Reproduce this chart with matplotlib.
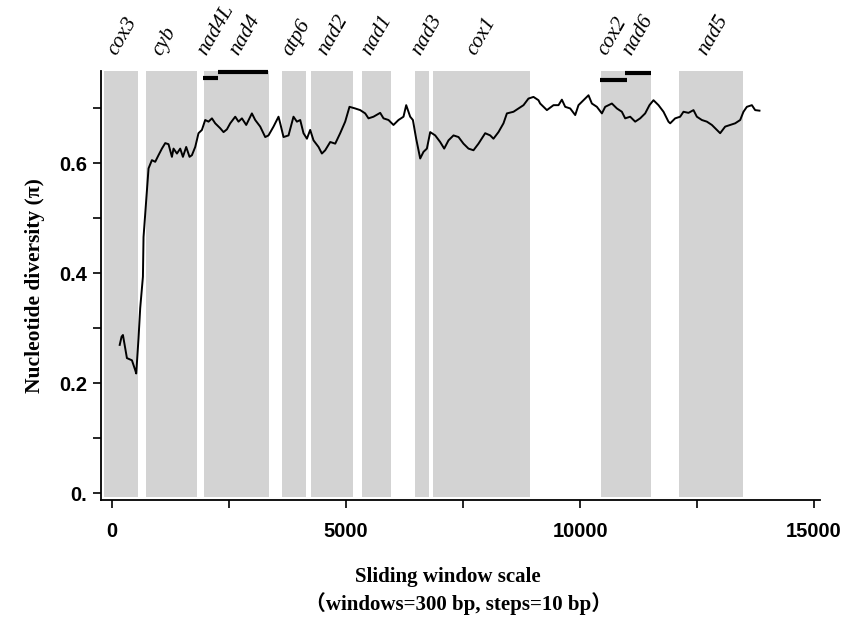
import matplotlib
matplotlib.use('Agg')
import matplotlib.pyplot as plt

# gene regions (bp)
genes = ['cox3', 'cyb', 'nad4L/nad4', 'atp6', 'nad2', 'nad1', 'nad3', 'cox1', 'cox2/nad6', 'nad5']
gene_start = [-180, 716, 1962, 3632, 4252, 5342, 6474, 6859, 10449, 12105]
gene_end = [556, 1806, 3340, 4145, 5150, 5962, 6763, 8932, 11517, 13483]

# gene names written on top
label_names = ['cox3', 'cyb', 'nad4L', 'nad4', 'atp6', 'nad2', 'nad1', 'nad3', 'cox1', 'cox2', 'nad6', 'nad5']
label_pos = [135, 1090, 2051, 2736, 3868, 4616, 5556, 6625, 7794, 10600, 11134, 12737]

# overlap bars
bar_names = ['nad4L', 'nad4', 'cox2', 'nad6']
bar_start = [1945, 2265, 10429, 10963]
bar_end = [2265, 3334, 11000, 11518]
bar_y = [0.755, 0.766, 0.752, 0.764]

# sliding window nucleotide diversity
pos = [160, 200, 229, 314, 421, 492, 513, 562, 598, 656, 669, 727, 776, 848, 919, 989,
       1062, 1133, 1203, 1276, 1310, 1383, 1453, 1511, 1581, 1652, 1703, 1774, 1844, 1917,
       1987, 2058, 2131, 2201, 2308, 2379, 2451, 2522, 2629, 2699, 2772, 2864, 2985, 3056,
       3163, 3270, 3340, 3447, 3554, 3590, 3661, 3768, 3874, 3947, 4018, 4088, 4161, 4231,
       4302, 4409, 4481, 4552, 4659, 4766, 4872, 4979, 5071, 5193, 5300, 5407, 5477, 5584,
       5727, 5798, 5905, 6011, 6118, 6225, 6283, 6368, 6426, 6496, 6582, 6652, 6725, 6796,
       6903, 7009, 7095, 7187, 7294, 7401, 7507, 7614, 7721, 7828, 7971, 8078, 8148, 8255,
       8362, 8435, 8576, 8683, 8790, 8896, 9003, 9110, 9146, 9290, 9431, 9538, 9610, 9681,
       9788, 9895, 9965, 10072, 10179, 10251, 10358, 10465, 10536, 10679, 10786, 10892,
       10963, 11070, 11177, 11283, 11390, 11482, 11568, 11675, 11782, 11888, 11925, 12031,
       12138, 12209, 12316, 12423, 12495, 12602, 12709, 12816, 12922, 12993, 13100, 13207,
       13314, 13421, 13491, 13564, 13671, 13741, 13833]
pi = [0.27, 0.285, 0.288, 0.246, 0.242, 0.224, 0.218, 0.282, 0.337, 0.394, 0.466, 0.534,
      0.591, 0.606, 0.603, 0.615, 0.627, 0.637, 0.635, 0.612, 0.627, 0.618, 0.627, 0.612,
      0.630, 0.612, 0.615, 0.630, 0.655, 0.661, 0.679, 0.676, 0.682, 0.673, 0.664, 0.657,
      0.662, 0.673, 0.685, 0.676, 0.682, 0.670, 0.691, 0.679, 0.667, 0.648, 0.651, 0.667,
      0.685, 0.673, 0.648, 0.651, 0.685, 0.676, 0.679, 0.655, 0.645, 0.661, 0.642, 0.630,
      0.618, 0.624, 0.639, 0.636, 0.655, 0.676, 0.703, 0.700, 0.697, 0.691, 0.682, 0.685,
      0.692, 0.682, 0.679, 0.670, 0.679, 0.685, 0.706, 0.685, 0.679, 0.645, 0.609, 0.621,
      0.627, 0.657, 0.651, 0.639, 0.627, 0.642, 0.651, 0.648, 0.636, 0.627, 0.624, 0.636,
      0.655, 0.651, 0.645, 0.657, 0.673, 0.691, 0.694, 0.700, 0.706, 0.718, 0.721, 0.715,
      0.709, 0.697, 0.706, 0.706, 0.716, 0.703, 0.700, 0.688, 0.706, 0.715, 0.724, 0.709,
      0.703, 0.691, 0.703, 0.709, 0.700, 0.694, 0.682, 0.685, 0.676, 0.682, 0.691, 0.706,
      0.715, 0.706, 0.694, 0.676, 0.673, 0.682, 0.685, 0.694, 0.692, 0.697, 0.685, 0.679,
      0.676, 0.670, 0.661, 0.655, 0.667, 0.670, 0.673, 0.679, 0.694, 0.703, 0.706, 0.697,
      0.696]

yticks = [0, 0.2, 0.4, 0.6]
ytick_labels = ['0.', '0.2', '0.4', '0.6']
xticks = [0, 5000, 10000, 15000]

tick_font = ['Liberation Sans Narrow', 'Liberation Sans', 'DejaVu Sans']
serif = ['Liberation Serif', 'Noto Sans CJK SC', 'DejaVu Serif']

fig = plt.figure(figsize=(8.57, 6.18), dpi=100)
ax = fig.add_axes([0.1173, 0.191, 0.8397, 0.694])

for s, e in zip(gene_start, gene_end):
    ax.axvspan(s, e, ymin=0.008, ymax=1, color='#d3d3d3', lw=0, zorder=0)

for s, e, y in zip(bar_start, bar_end, bar_y):
    ax.plot([s, e], [y, y], color='black', lw=3, solid_capstyle='butt', clip_on=False)

ax.plot(pos, pi, color='black', lw=1.4, zorder=3)

for name, x in zip(label_names, label_pos):
    ax.text(x - 40, 0.795, name, rotation=60, rotation_mode='anchor', ha='left', va='baseline',
            fontsize=15.5, style='italic', family=serif, clip_on=False)

ax.set_xlim(-250, 15130)
ax.set_ylim(-0.012, 0.768)

ax.spines['top'].set_visible(False)
ax.spines['right'].set_visible(False)
ax.spines['left'].set_linewidth(1.3)
ax.spines['bottom'].set_linewidth(1.3)

ax.set_yticks(yticks)
ax.set_yticklabels(ytick_labels)
ax.set_yticks([0.1, 0.3, 0.5, 0.7], minor=True)
ax.set_xticks(xticks)
ax.set_xticks([2500, 7500, 12500], minor=True)
ax.tick_params(axis='both', which='both', direction='out', length=6, width=1.2)
for lab in ax.get_xticklabels() + ax.get_yticklabels():
    lab.set_family(tick_font)
    lab.set_fontweight('bold')
    lab.set_fontsize(14.5)
ax.tick_params(axis='x', pad=10)

ax.set_ylabel('Nucleotide diversity (π)', fontsize=15.5, fontweight='bold', family=serif, labelpad=10)

fig.text(0.522, 0.058, 'Sliding window scale', ha='center', fontsize=15, fontweight='bold', family=serif)
fig.text(0.535, 0.013, '（windows=300 bp, steps=10 bp）', ha='center', fontsize=15,
         fontweight='bold', family=serif)

fig.savefig('out.png', dpi=100)
